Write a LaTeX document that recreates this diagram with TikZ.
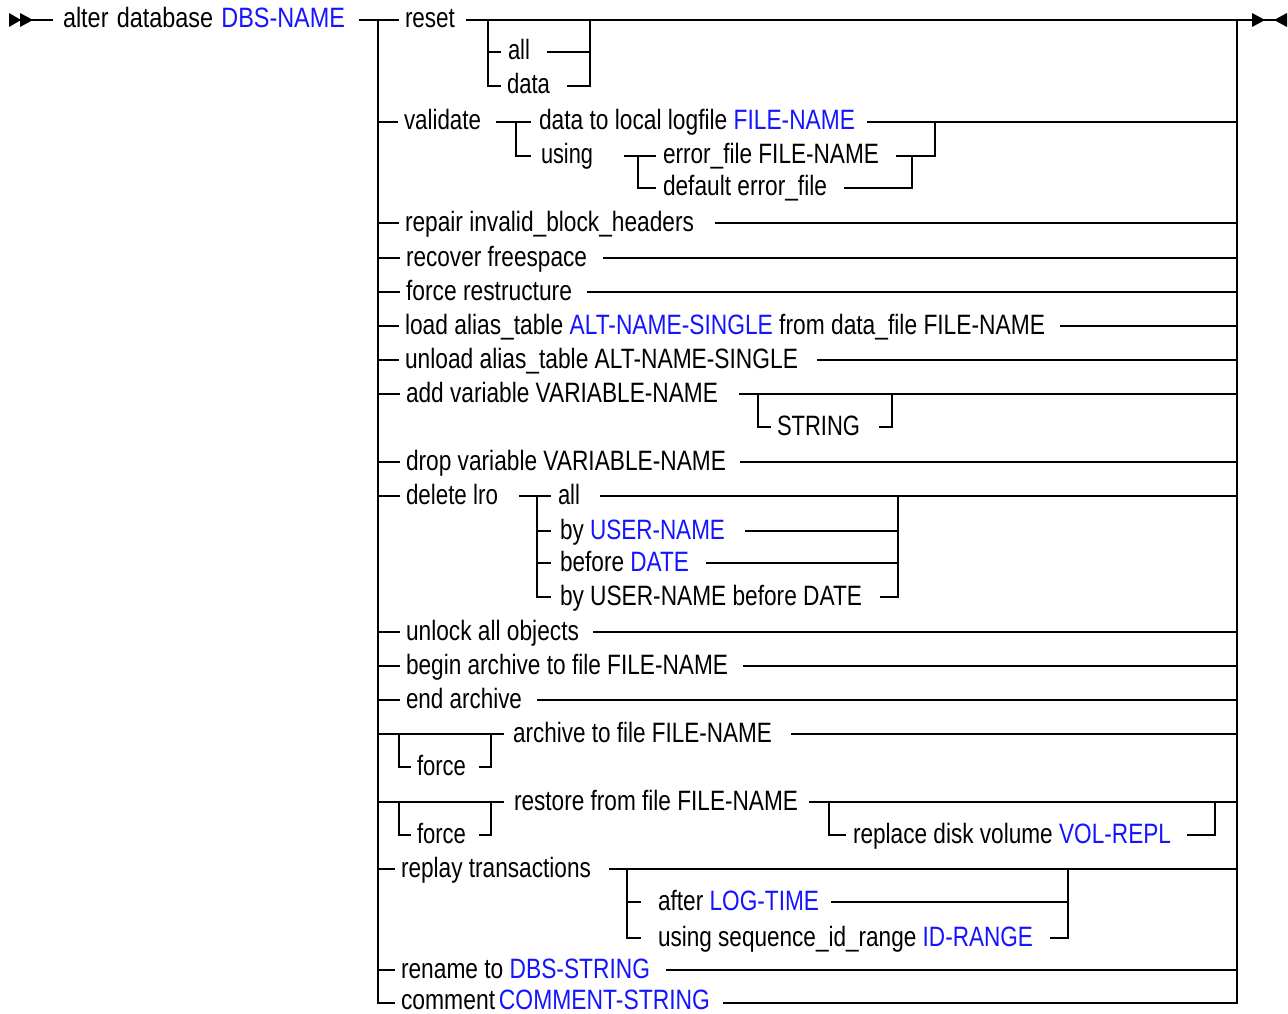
\documentclass[tikz,border=0pt]{standalone}
\usepackage{fontspec}
\setmainfont{Liberation Sans}
\usepackage{graphicx}
\definecolor{kw}{RGB}{20,20,255}
\newsavebox\fitbox
\newcommand\fitto[2]{\sbox\fitbox{#2}\edef\fitw{\the\wd\fitbox}\pgfmathsetmacro\fitr{#1/\fitw}\scalebox{\fitr}[1]{\usebox\fitbox}}
% name, x, line y, width, gap, line end x, text
\newcommand\R[7]{%
  \node[txt] (#1) at (#2,#3+8) {\fitto{#4}{#7}};
  \path (#1.east |- 0,#3) ++(#5,0) coordinate (#1-o);
  \draw (#1-o) -- (#6,#3);}
\newcommand\Tk[2]{\draw (378,#1) -- (#2-7,#1);}
\begin{document}
\begin{tikzpicture}[x=1pt,y=-1pt,line width=1.6pt,line cap=rect,
  txt/.style={anchor=base west, inner sep=0pt, outer sep=0pt, font=\fontsize{28}{30}\selectfont}]
\useasboundingbox (0,0) rectangle (1288,1014);
% start / end markers
\fill (9,13) -- (21,20) -- (9,27) -- cycle;
\fill (20,13) -- (33,20) -- (20,27) -- cycle;
\draw (20,20) -- (52,20);
\node[txt] (title) at (63,28) {\fitto{282}{alter\hspace{0.35em}database\hspace{0.35em}\textcolor{kw}{DBS-NAME}}};
\path (title.east |- 0,20) ++(15,0) coordinate (title-o);
\draw (title-o) -- (398,20);
\fill (1252,13) -- (1265,20) -- (1252,27) -- cycle;
\fill (1287,13) -- (1274,20) -- (1287,27) -- cycle;
\draw (1255,20) -- (1286,20);
% main bars
\coordinate (L0) at (378,20); \coordinate (L1) at (378,1003);
\coordinate (R0) at (1237,20); \coordinate (R1) at (1237,1003);
\draw (L0) -- (L1) -- (394,1003);
\draw (R0) -- (R1);
% reset
\R{reset}{405}{20}{50}{12}{1255}{reset}
\draw (488,20) -- (488,86) -- (500,86);
\draw (488,52) -- (500,52);
\R{rall}{508}{52}{22}{18}{590}{all}
\R{rdata}{507}{86}{43}{18}{590}{data}
\draw (590,86) -- (590,20);
% validate
\Tk{122}{404}
\R{val}{404}{122}{77}{16}{530}{validate}
\draw (516,122) -- (516,156) -- (530,156);
\R{vlog}{539}{122}{316}{13}{1237}{data to local logfile \textcolor{kw}{FILE-NAME}}
\R{vusing}{541}{156}{52}{32}{655}{using}
\draw (638,156) -- (638,188) -- (655,188);
\R{verr}{663}{156}{216}{18}{935}{error\_file FILE-NAME}
\draw (935,156) -- (935,122);
\R{vdef}{663}{188}{164}{18}{912}{default error\_file}
\draw (912,188) -- (912,156);
% simple rows
\Tk{223}{405}\R{rep}{405}{223}{289}{22}{1237}{repair invalid\_block\_headers}
\Tk{258}{406}\R{rec}{406}{258}{181}{17}{1237}{recover freespace}
\Tk{292}{406}\R{frs}{406}{292}{166}{16}{1237}{force restructure}
\Tk{326}{405}\R{load}{405}{326}{640}{16}{1237}{load alias\_table \textcolor{kw}{ALT-NAME-SINGLE} from data\_file FILE-NAME}
\Tk{360}{405}\R{unl}{405}{360}{393}{20}{1237}{unload alias\_table ALT-NAME-SINGLE}
\Tk{394}{406}\R{addv}{406}{394}{312}{22}{1237}{add variable VARIABLE-NAME}
\draw (758,394) -- (758,427) -- (770,427);
\R{str}{777}{427}{83}{20}{892}{STRING}
\draw (892,427) -- (892,394);
\Tk{462}{406}\R{drop}{406}{462}{320}{15}{1237}{drop variable VARIABLE-NAME}
% delete lro
\Tk{496}{406}\R{dlro}{406}{496}{92}{22}{550}{delete lro}
\draw (537,496) -- (537,597) -- (550,597);
\draw (537,531) -- (550,531);
\draw (537,563) -- (550,563);
\R{dall}{558}{496}{22}{21}{1237}{all}
\R{dby}{560}{531}{165}{21}{898}{by \textcolor{kw}{USER-NAME}}
\R{dbef}{560}{563}{129}{18}{898}{before \textcolor{kw}{DATE}}
\R{dbb}{560}{597}{302}{19}{898}{by USER-NAME before DATE}
\draw (898,597) -- (898,496);
\Tk{632}{406}\R{unlk}{406}{632}{173}{15}{1237}{unlock all objects}
\Tk{666}{406}\R{barc}{406}{666}{322}{16}{1237}{begin archive to file FILE-NAME}
\Tk{700}{406}\R{earc}{406}{700}{116}{16}{1237}{end archive}
% archive
\draw (378,734) -- (503,734);
\draw (399,734) -- (399,767) -- (410,767);
\R{f1}{417}{767}{49}{14}{491}{force}
\draw (491,767) -- (491,734);
\R{arc}{513}{734}{259}{20}{1237}{archive to file FILE-NAME}
% restore
\draw (378,802) -- (503,802);
\draw (399,802) -- (399,835) -- (410,835);
\R{f2}{417}{835}{49}{14}{491}{force}
\draw (491,835) -- (491,802);
\R{rst}{514}{802}{284}{12}{1237}{restore from file FILE-NAME}
\draw (829,802) -- (829,835) -- (845,835);
\R{rpl}{853}{835}{318}{17}{1215}{replace disk volume \textcolor{kw}{VOL-REPL}}
\draw (1215,835) -- (1215,802);
% replay
\Tk{869}{401}\R{rply}{401}{869}{190}{19}{1237}{replay transactions}
\draw (627,869) -- (627,938) -- (640,938);
\draw (627,902) -- (640,902);
\R{aft}{658}{902}{161}{13}{1068}{after \textcolor{kw}{LOG-TIME}}
\R{useq}{658}{938}{375}{18}{1068}{using sequence\_id\_range \textcolor{kw}{ID-RANGE}}
\draw (1068,938) -- (1068,869);
\Tk{970}{401}\R{ren}{401}{970}{249}{17}{1237}{rename to \textcolor{kw}{DBS-STRING}}
\node[txt] (cmt) at (401,1009) {\fitto{309}{comment\,\textcolor{kw}{COMMENT-STRING}}};
\path (cmt.east |- 0,1003) ++(14,0) coordinate (cmt-o);
\draw (cmt-o) -- (R1);
\end{tikzpicture}
\end{document}
